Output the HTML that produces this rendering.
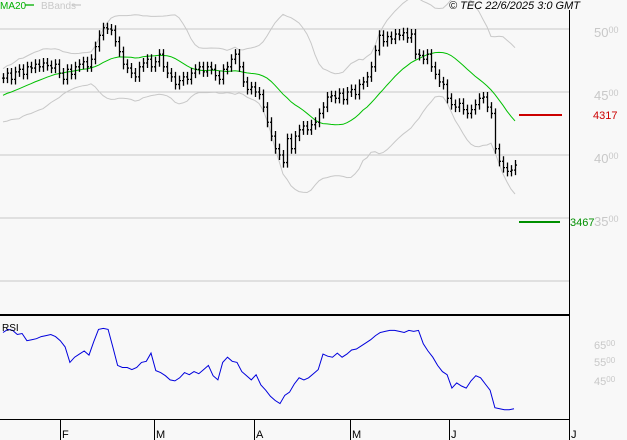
<!DOCTYPE html>
<html><head><meta charset="utf-8"><style>
html,body{margin:0;padding:0;background:#f8f8f8;}
svg{display:block;font-family:"Liberation Sans",sans-serif;}
</style></head><body>
<svg id="c" width="627" height="440" viewBox="0 0 627 440">
<rect x="0" y="0" width="627" height="440" fill="#f8f8f8"/>
<g id="grid"></g><g id="bands"></g><g id="ma"></g><g id="bars"></g><g id="rsi"></g><g id="axes"></g>
<text x="0" y="9" font-size="10" fill="#00b000">MA20</text>
<line x1="25" y1="5" x2="34" y2="5" stroke="#00b000" stroke-width="1.3"/>
<text x="41" y="9" font-size="10" fill="#c8c8c8">BBands</text>
<line x1="72" y1="5" x2="81" y2="5" stroke="#c8c8c8" stroke-width="1.3"/>
<text x="449" y="9" font-size="11" font-style="italic" fill="#000">© TEC 22/6/2025 3:0 GMT</text>
</svg>
<script>
const closes=[4610,4650,4600,4660,4680,4640,4700,4690,4720,4700,4730,4710,4690,4720,4650,4600,4680,4640,4700,4720,4740,4700,4760,4860,4950,5010,5000,4990,4900,4820,4720,4690,4650,4620,4700,4730,4760,4700,4740,4800,4700,4650,4620,4560,4590,4620,4600,4650,4680,4700,4660,4700,4680,4630,4600,4680,4700,4760,4800,4700,4580,4520,4540,4500,4480,4380,4260,4150,4050,4000,3940,4130,4050,4150,4200,4230,4200,4240,4260,4330,4380,4460,4470,4450,4490,4440,4500,4520,4480,4560,4580,4620,4700,4830,4950,4900,4940,4920,4960,4950,4970,4930,4960,4800,4790,4760,4800,4700,4640,4580,4560,4450,4400,4380,4410,4360,4330,4360,4400,4450,4460,4380,4330,4050,3950,3900,3870,3880,3920];
const history=[4350,4380,4400,4420,4380,4400,4450,4430,4460,4480,4450,4470,4500,4520,4490,4540,4560,4580,4600];
const rsiValues=[84,87,86,82,83,76,77,78,80,81,82,80,76,70,55,60,63,66,62,75,87,88,87,70,52,50,50,48,50,55,56,64,47,45,42,38,37,40,45,43,46,44,48,52,42,38,55,60,56,55,46,42,38,43,33,28,22,18,15,23,26,34,40,38,40,44,48,63,61,60,64,60,63,67,68,71,74,77,81,84,85,86,86,85,84,86,85,86,73,66,60,52,46,43,30,35,32,30,37,42,40,34,28,11,10,9,9,10];
const priceTicks=[5000,4500,4000,3500,3000];
const rsiTicks=[["65","00",343],["55","00",360],["45","00",379]];
const months=["F","M","A","M","J","J"];
const monthX=[60,154,254,350,449,569];
const levelHigh=4317, levelLow=3467;

const NS="http://www.w3.org/2000/svg";
const py=p=>155-(p-4000)*0.126;
const bx=i=>3+4*i;
const rx=i=>3+i*(511/(rsiValues.length-1));
const ry=v=>419-v*1.03;
function mk(tag,attrs,parent){const e=document.createElementNS(NS,tag);for(const k in attrs)e.setAttribute(k,attrs[k]);document.getElementById(parent).appendChild(e);return e;}

priceTicks.forEach(t=>{
  const l=mk('line',{x1:0,x2:569,y1:py(t),y2:py(t),stroke:'#c8c8c8','stroke-width':1},'grid');
  
  
  if(t>=3500){
    const tx=mk('text',{x:594,y:py(t)+8,'font-size':13,fill:'#c8c8c8'},'grid');
    
    
    tx.textContent=String(t).slice(0,2);
    const s=document.createElementNS(NS,'tspan');s.setAttribute('font-size','9');s.setAttribute('dy','-4');s.textContent='00';tx.appendChild(s);
  }
});
rsiTicks.forEach(r=>{
  const tx=mk('text',{x:594,y:r[2]+6,'font-size':11,fill:'#c8c8c8'},'grid');
  
  
  tx.textContent=r[0];
  const s=document.createElementNS(NS,'tspan');s.setAttribute('font-size','8');s.setAttribute('dy','-3');s.textContent=r[1];tx.appendChild(s);
});

const all=history.concat(closes);
let ma=[],up=[],lo=[];
closes.forEach((c,i)=>{
  const w=all.slice(i,i+20);const m=w.reduce((a,b)=>a+b,0)/20;
  const sd=Math.sqrt(w.reduce((a,b)=>a+(b-m)*(b-m),0)/20);
  ma.push([bx(i),py(m)]);up.push([bx(i),py(m+2.3*sd+40)]);lo.push([bx(i),py(m-2.3*sd-40)]);
});
const pts=a=>a.map(p=>p[0]+','+p[1].toFixed(1)).join(' ');
let e=mk('polyline',{points:pts(up),fill:'none',stroke:'#c8c8c8','stroke-width':1},'bands');


e=mk('polyline',{points:pts(lo),fill:'none',stroke:'#c8c8c8','stroke-width':1},'bands');


e=mk('polyline',{points:pts(ma),fill:'none',stroke:'#00c000','stroke-width':1},'ma');



closes.forEach((c,i)=>{
  const o=i?closes[i-1]:c;const x=bx(i);
  const hi=Math.max(o,c)+40,lw=Math.min(o,c)-40;
  const g=mk('g',{},'bars');
  
  
  const a=document.createElementNS(NS,'path');
  a.setAttribute('d',`M${x+0.5},${py(hi)}V${py(lw)}M${x-1},${py(o)}H${x}M${x+1},${py(c)}H${x+2}`);
  a.setAttribute('stroke','#000');a.setAttribute('stroke-width','1.3');g.appendChild(a);
});

e=mk('line',{x1:519,x2:562,y1:py(levelHigh),y2:py(levelHigh),stroke:'#cc0000','stroke-width':2},'axes');


e=mk('text',{x:593,y:py(levelHigh)+4,'font-size':11,fill:'#cc0000'},'axes');


e.textContent=String(levelHigh);
e=mk('line',{x1:519,x2:560,y1:222,y2:222,stroke:'#009000','stroke-width':2},'axes');


e=mk('text',{x:570,y:226,'font-size':11,fill:'#009000'},'axes');


e.textContent=String(levelLow);

e=mk('polyline',{points:rsiValues.map((v,i)=>rx(i).toFixed(1)+','+ry(v).toFixed(1)).join(' '),fill:'none',stroke:'#0000dd','stroke-width':1},'rsi');


e=mk('text',{x:2,y:331,'font-size':10,fill:'#000'},'rsi');


e.textContent='RSI';

e=mk('line',{x1:569.5,x2:569.5,y1:10,y2:419,stroke:'#000','stroke-width':1},'axes');


e=mk('line',{x1:0,x2:570,y1:315,y2:315,stroke:'#000','stroke-width':2},'axes');


e=mk('line',{x1:0,x2:570,y1:419.5,y2:419.5,stroke:'#000','stroke-width':1},'axes');


months.forEach((m,i)=>{
  const x=monthX[i];
  const t=mk('line',{x1:x+0.5,x2:x+0.5,y1:419,y2:440,stroke:'#000','stroke-width':1},'axes');
  
  
  const tx=mk('text',{x:x+2,y:438,'font-size':11,fill:'#000'},'axes');
  
  
  tx.textContent=m;
});
</script>
</body></html>
